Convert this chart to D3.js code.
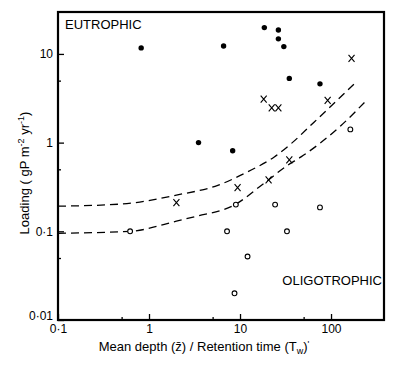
<!DOCTYPE html>
<html>
<head>
<meta charset="utf-8">
<script src="https://cdn.jsdelivr.net/npm/d3@7"></script>
<style>
  body { margin: 0; background: #fff; }
  svg { display: block; font-family: "Liberation Sans", Arial, sans-serif; }
</style>
</head>
<body>
<svg></svg>
<script>
// eutrophic lakes (filled dots)
var eutroX = [0.82, 3.5, 6.6, 18.5, 26.4, 26.4, 30.3, 34.8, 75.6, 8.3];
var eutroY = [11.7, 1.0, 12.3, 19.8, 18.6, 14.8, 12.1, 5.3, 4.6, 0.81];
// mesotrophic lakes (crosses)
var mesoX = [168, 18.2, 22.3, 26.4, 91.8, 34.8, 20.6, 9.4, 2.0];
var mesoY = [8.9, 3.1, 2.47, 2.47, 3.0, 0.64, 0.38, 0.31, 0.21];
// oligotrophic lakes (open circles)
var oligoX = [0.62, 9.0, 24.3, 75.6, 7.2, 32.8, 12.1, 8.7, 163];
var oligoY = [0.1, 0.2, 0.2, 0.186, 0.1, 0.1, 0.052, 0.02, 1.41];
// dashed boundary lines
var upperX = [0.1, 0.5, 2.0, 5.7, 12.2, 23.8, 36.3, 65.5, 180];
var upperY = [0.192, 0.203, 0.256, 0.33, 0.47, 0.69, 0.97, 1.71, 4.6];
var lowerX = [0.1, 0.62, 2.0, 3.15, 8.65, 18.5, 33.4, 46.8, 129, 253];
var lowerY = [0.095, 0.1, 0.13, 0.146, 0.198, 0.35, 0.556, 0.69, 1.56, 3.1];

var xMajor = [0.1, 1, 10, 100];
var xMajorLabels = ["0·1", "1", "10", "100"];
var xMinor = [0.5, 5, 50];
var yMajor = [0.01, 0.1, 1, 10];
var yMajorLabels = ["0·01", "0·1", "1", "10"];
var yMinor = [0.05, 0.5, 5];

var width = 400;
var height = 366;
var padL = 58, padR = 384, padT = 12, padB = 320;

var x = d3.scaleLog().domain([0.1, 382]).range([padL, padR]);
var y = d3.scaleLog().domain([0.01, 29.7]).range([padB, padT]);

var svg = d3.select('svg')
    .attr('width', width)
    .attr('height', height);

// minor ticks
svg.append('g')
    .attr('transform', 'translate(0,' + padB + ')')
    .call(d3.axisBottom(x).tickValues(xMinor).tickSize(-3).tickFormat(''))
    .call(g => g.select('.domain').remove());
svg.append('g')
    .attr('transform', 'translate(' + padL + ',0)')
    .call(d3.axisLeft(y).tickValues(yMinor).tickSize(-3).tickFormat(''))
    .call(g => g.select('.domain').remove());

// major ticks with labels
var xAxis = svg.append('g')
    .attr('transform', 'translate(0,' + padB + ')')
    .call(d3.axisBottom(x).tickValues(xMajor).tickSize(-6).tickPadding(4)
      .tickFormat((d, i) => xMajorLabels[i]));
xAxis.select('.domain').remove();

var yAxis = svg.append('g')
    .attr('transform', 'translate(' + padL + ',0)')
    .call(d3.axisLeft(y).tickValues(yMajor).tickSize(-6).tickPadding(5)
      .tickFormat((d, i) => yMajorLabels[i]));
yAxis.select('.domain').remove();
yAxis.selectAll('.tick').filter(d => d === 0.01).select('text').attr('dy', '-0.05em');

svg.selectAll('.tick line').attr('stroke', '#000').attr('stroke-width', 1.3);
svg.selectAll('.tick text').attr('font-size', 12).attr('fill', '#000')
   .attr('font-family', '"Liberation Sans", Arial, sans-serif');

// frame
svg.append('rect')
    .attr('x', padL)
    .attr('y', padT)
    .attr('width', padR - padL)
    .attr('height', padB - padT)
    .attr('fill', 'none')
    .attr('stroke', '#000')
    .attr('stroke-width', 2.2);

// dashed lines
var line = d3.line()
    .x(d => x(d[0]))
    .y(d => y(d[1]))
    .curve(d3.curveMonotoneX);

[[upperX, upperY], [lowerX, lowerY]].forEach(function(s) {
  var pts = s[0].map((v, i) => [v, s[1][i]]);
  svg.append('path')
      .attr('d', line(pts))
      .attr('fill', 'none')
      .attr('stroke', '#000')
      .attr('stroke-width', 1.3)
      .attr('stroke-dasharray', '8,5');
});

// eutrophic
svg.append('g').selectAll('circle')
    .data(eutroX.map((v, i) => [v, eutroY[i]]))
    .enter().append('circle')
      .attr('cx', d => x(d[0]))
      .attr('cy', d => y(d[1]))
      .attr('r', 2.7)
      .attr('fill', '#000');

// oligotrophic
svg.append('g').selectAll('circle')
    .data(oligoX.map((v, i) => [v, oligoY[i]]))
    .enter().append('circle')
      .attr('cx', d => x(d[0]))
      .attr('cy', d => y(d[1]))
      .attr('r', 2.4)
      .attr('fill', '#fff')
      .attr('stroke', '#000')
      .attr('stroke-width', 1.1);

// mesotrophic crosses
svg.append('g').selectAll('path')
    .data(mesoX.map((v, i) => [v, mesoY[i]]))
    .enter().append('path')
      .attr('transform', d => 'translate(' + x(d[0]) + ',' + y(d[1]) + ')')
      .attr('d', 'M-3,-3.5L3,3.5M3,-3.5L-3,3.5')
      .attr('stroke', '#000')
      .attr('stroke-width', 1.1)
      .attr('fill', 'none');

// region labels
svg.append('text')
    .attr('x', 65)
    .attr('y', 29)
    .attr('font-size', 13)
    .text('EUTROPHIC');

svg.append('text')
    .attr('x', 382)
    .attr('y', 285)
    .attr('text-anchor', 'end')
    .attr('font-size', 13)
    .text('OLIGOTROPHIC');

// axis titles
var xt = svg.append('text')
    .attr('x', 204)
    .attr('y', 351)
    .attr('text-anchor', 'middle')
    .attr('font-size', 13);
xt.append('tspan').text('Mean depth (z\u0304) / Retention time (T');
xt.append('tspan').attr('font-size', 9).attr('dy', 3).text('w');
xt.append('tspan').attr('dy', -3).text(')');
xt.append('tspan').attr('font-size', 9).attr('dy', -4).text("'");

var yt = svg.append('text')
    .attr('transform', 'translate(29,173) rotate(-90)')
    .attr('text-anchor', 'middle')
    .attr('font-size', 13);
yt.append('tspan').text('Loading ( gP m');
yt.append('tspan').attr('font-size', 9).attr('dy', -5).text('-2');
yt.append('tspan').attr('dy', 5).text(' yr');
yt.append('tspan').attr('font-size', 9).attr('dy', -5).text('-1');
yt.append('tspan').attr('dy', 5).text(')');
</script>
</body>
</html>
